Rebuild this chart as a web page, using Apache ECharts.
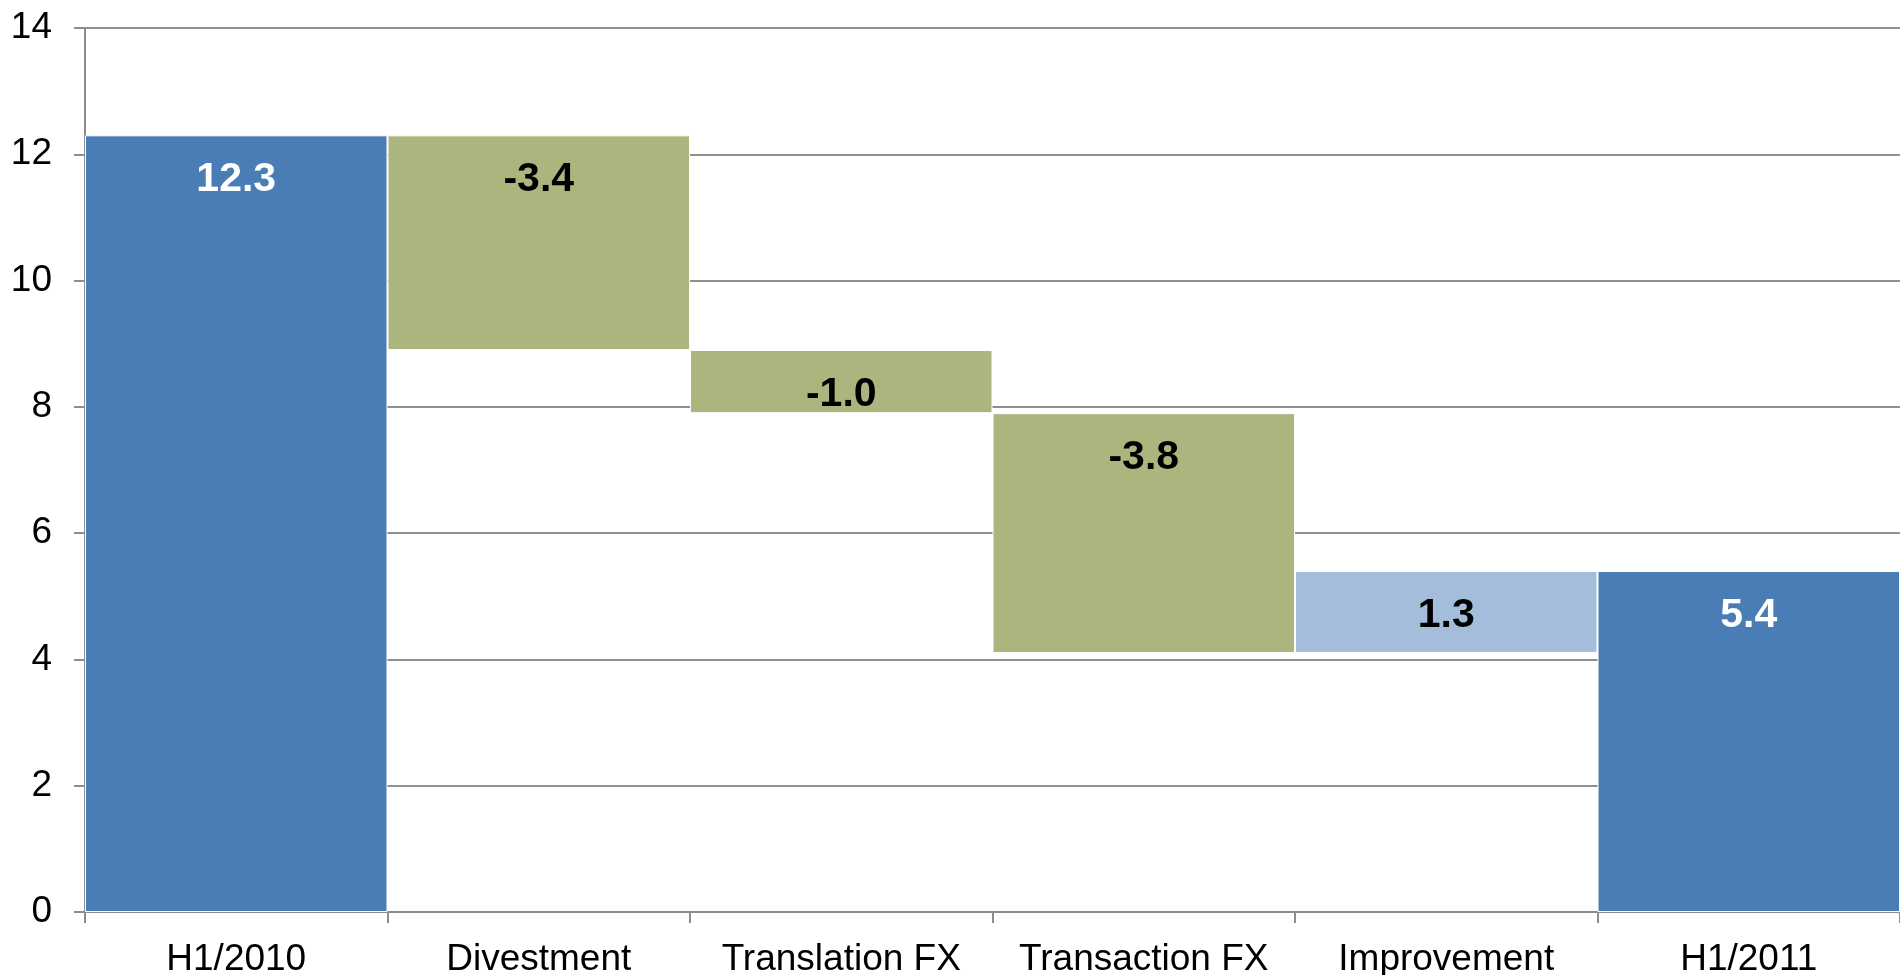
<!DOCTYPE html>
<html>
<head>
    <meta charset="utf-8">
    <title>Waterfall</title>
    <style>
        html, body { margin: 0; padding: 0; background: #fff; }
        #main { width: 1900px; height: 975px; }
    </style>
</head>
<body>
    <div id="main"></div>
    <script src="https://cdn.jsdelivr.net/npm/echarts@6/dist/echarts.min.js"></script>
    <script>
        var categories = ['H1/2010', 'Divestment', 'Translation FX', 'Transaction FX', 'Improvement', 'H1/2011'];
        var values = [12.3, -3.4, -1.0, -3.8, 1.3, 5.4];
        var isTotal = [true, false, false, false, false, true];
        var yTicks = [0, 2, 4, 6, 8, 10, 12, 14];

        var colTotal = '#4a7db6';
        var colDown = '#abb67e';
        var colUp = '#a3bddb';

        // running sum -> invisible base + visible part
        var base = [], shown = [];
        var run = 0;
        for (var i = 0; i < values.length; i++) {
            var v = values[i];
            if (isTotal[i]) {
                base.push(0);
                shown.push(v);
                run = v;
            } else if (v < 0) {
                run = +(run + v).toFixed(1);
                base.push(run);
                shown.push(-v);
            } else {
                base.push(run);
                shown.push(v);
                run = +(run + v).toFixed(1);
            }
        }

        var barData = shown.map(function (s, i) {
            var c = isTotal[i] ? colTotal : (values[i] < 0 ? colDown : colUp);
            return {
                value: s,
                itemStyle: { color: c },
                label: { color: isTotal[i] ? '#ffffff' : '#000000' }
            };
        });

        var chart = echarts.init(document.getElementById('main'));
        var option = {
            animation: false,
            grid: { left: 85, right: 0, top: 28, bottom: 63, containLabel: false, outerBoundsMode: 'none' },
            xAxis: {
                type: 'category',
                data: categories,
                axisLine: { show: true, lineStyle: { color: '#8c8c8c', width: 2 } },
                axisTick: { show: true, length: 11, lineStyle: { color: '#8c8c8c', width: 2 } },
                axisLabel: {
                    interval: 0,
                    margin: 29,
                    color: '#000',
                    fontFamily: 'Liberation Sans, Arial, sans-serif',
                    fontSize: 37
                }
            },
            yAxis: {
                type: 'value',
                min: yTicks[0],
                max: yTicks[yTicks.length - 1],
                interval: 2,
                axisLine: { show: true, lineStyle: { color: '#8c8c8c', width: 2 } },
                axisTick: { show: true, length: 11, lineStyle: { color: '#8c8c8c', width: 2 } },
                splitLine: { show: true, lineStyle: { color: '#8f8f8f', width: 2 } },
                axisLabel: {
                    margin: 33,
                    color: '#000',
                    fontFamily: 'Liberation Sans, Arial, sans-serif',
                    fontSize: 37
                }
            },
            series: [{
                name: 'base',
                type: 'bar',
                stack: 'w',
                silent: true,
                barCategoryGap: '0%',
                itemStyle: { color: 'transparent' },
                data: base
            }, {
                name: 'value',
                type: 'bar',
                stack: 'w',
                barCategoryGap: '0%',
                itemStyle: { borderColor: '#ffffff', borderWidth: 1 },
                label: {
                    show: true,
                    position: 'insideTop',
                    distance: 24,
                    fontFamily: 'Liberation Sans, Arial, sans-serif',
                    fontSize: 41,
                    fontWeight: 'bold',
                    formatter: function (p) {
                        return values[p.dataIndex].toFixed(1);
                    }
                },
                data: barData
            }]
        };
        chart.setOption(option);
    </script>
</body>
</html>
